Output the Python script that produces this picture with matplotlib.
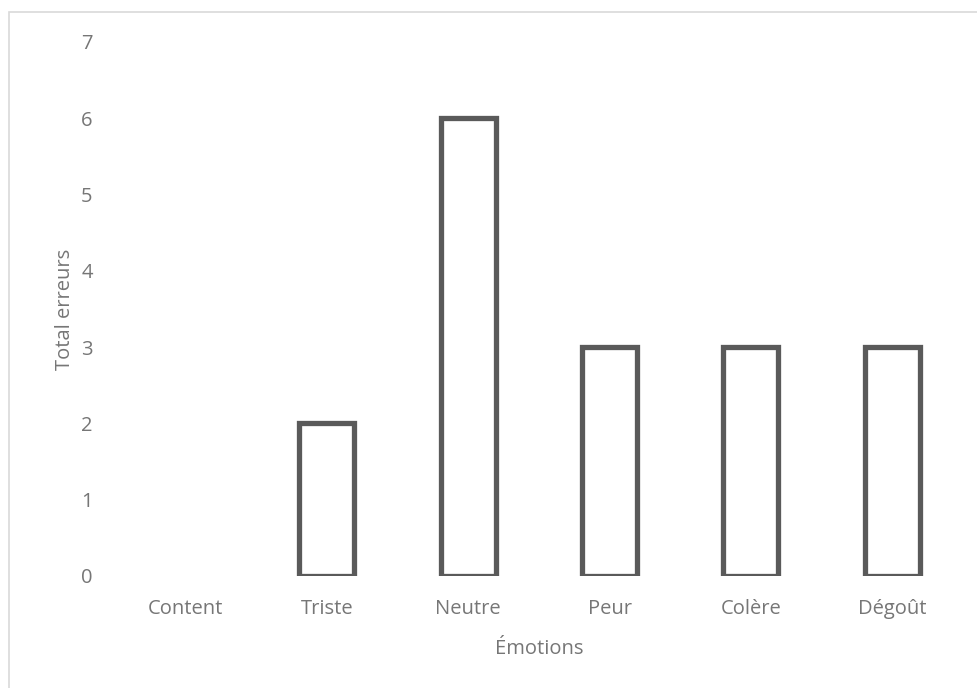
import matplotlib.pyplot as plt
from matplotlib.patches import Rectangle
import numpy as np

plt.rcParams.update({
    "font.family": ["Open Sans", "DejaVu Sans"],
    "font.size": 14.5,
})

emotions = ["Content", "Triste", "Neutre", "Peur", "Colère", "Dégoût"]
erreurs = [0, 2, 6, 3, 3, 3]

bar_grey = "#5a5a5a"
text_grey = "#767676"
x = np.arange(len(emotions))

fig = plt.figure(figsize=(9.77, 6.88), dpi=100)
ax = fig.add_axes([0.1176, 0.163, 0.868, 0.776])

bars = ax.bar(x, erreurs, width=0.39, facecolor="white", edgecolor=bar_grey, linewidth=3.8)
# Excel draws nothing for a zero value
for b, v in zip(bars, erreurs):
    if v == 0:
        b.set_visible(False)

ax.set_xlim(-0.5, len(emotions) - 0.5)
ax.set_ylim(0, 7)
ax.set_yticks(range(0, 8))
ax.set_xticks(x)
ax.set_xticklabels(emotions)
ax.tick_params(length=0, colors=text_grey, labelsize=14.5)
ax.tick_params(axis="y", pad=16)
ax.tick_params(axis="x", pad=17)
for s in ax.spines.values():
    s.set_visible(False)

ax.set_xlabel("Émotions", color=text_grey, fontsize=14.5, labelpad=14)
ax.set_ylabel("Total erreurs", color=text_grey, fontsize=14.5, labelpad=4)

# light frame around the chart area
fig.patches.append(Rectangle((9 / 977, -0.1), 1.1, 1 - 12 / 688 + 0.1,
                             transform=fig.transFigure, fill=False,
                             edgecolor="#d9d9d9", linewidth=1.2))

fig.savefig("out.png", dpi=100)
